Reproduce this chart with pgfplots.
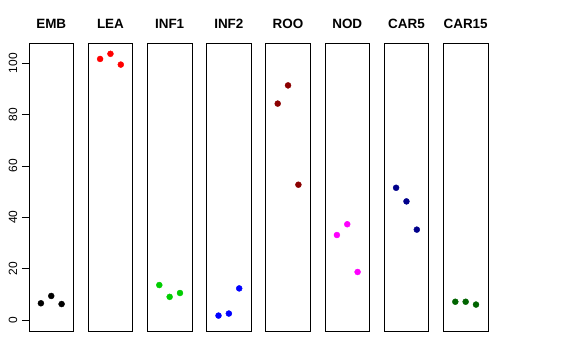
\documentclass[border=0pt]{standalone}
\usepackage{pgfplots}
\pgfplotsset{compat=1.18}
\usepackage{fontspec}
\setmainfont{Liberation Sans}
\definecolor{cEMB}{HTML}{000000}
\definecolor{cLEA}{HTML}{FF0000}
\definecolor{cINF1}{HTML}{00CD00}
\definecolor{cINF2}{HTML}{0000FF}
\definecolor{cROO}{HTML}{8B0000}
\definecolor{cNOD}{HTML}{FF00FF}
\definecolor{cCAR5}{HTML}{00008B}
\definecolor{cCARf}{HTML}{006400}
\pgfplotsset{
  panel/.style={
    scale only axis, width=44.5bp, height=287.7bp, anchor=south west,
    xmin=-0.15, xmax=4.15, ymin=-4.3, ymax=107.8,
    xtick=\empty, ytick=\empty,
    axis line style={line width=0.8bp, black},
    title style={at={(0.5,1)}, anchor=base, yshift=9bp, inner sep=0pt,
      font=\bfseries\fontsize{13.5}{14}\selectfont},
    clip=false,
  },
  dots/.style={only marks, mark=*, mark size=3pt, mark options={draw=#1, fill=#1}},
}
\begin{document}
\begin{tikzpicture}
\path[use as bounding box] (0,0) rectangle (576bp,360bp);
\begin{axis}[panel, at={(29bp,29bp)}, title={EMB},
  ytick={0,20,40,60,80,100}, ytick pos=left,
  tick align=outside, major tick length=7bp,
  tick style={line width=0.8bp, black},
  /pgf/number format/assume math mode=true,
  yticklabel style={xshift=-4.5bp, rotate=90, anchor=south, inner sep=0pt,
    font=\fontsize{12}{12}\selectfont},
]
\addplot[dots=cEMB] coordinates {(1,6.5) (2,9.35) (3,6.2)};
\end{axis}
\begin{axis}[panel, at={(88.2bp,29bp)}, title={LEA}]
\addplot[dots=cLEA] coordinates {(1,101.7) (2,103.7) (3,99.5)};
\end{axis}
\begin{axis}[panel, at={(147.4bp,29bp)}, title={INF1}]
\addplot[dots=cINF1] coordinates {(1,13.6) (2,9.0) (3,10.5)};
\end{axis}
\begin{axis}[panel, at={(206.6bp,29bp)}, title={INF2}]
\addplot[dots=cINF2] coordinates {(1,1.7) (2,2.5) (3,12.3)};
\end{axis}
\begin{axis}[panel, at={(265.8bp,29bp)}, title={ROO}]
\addplot[dots=cROO] coordinates {(1,84.3) (2,91.4) (3,52.7)};
\end{axis}
\begin{axis}[panel, at={(325bp,29bp)}, title={NOD}]
\addplot[dots=cNOD] coordinates {(1,33.1) (2,37.3) (3,18.7)};
\end{axis}
\begin{axis}[panel, at={(384.2bp,29bp)}, title={CAR5}]
\addplot[dots=cCAR5] coordinates {(1,51.5) (2,46.2) (3,35.2)};
\end{axis}
\begin{axis}[panel, at={(443.4bp,29bp)}, title={CAR15}]
\addplot[dots=cCARf] coordinates {(1,7.1) (2,7.1) (3,6.0)};
\end{axis}
\end{tikzpicture}
\end{document}
